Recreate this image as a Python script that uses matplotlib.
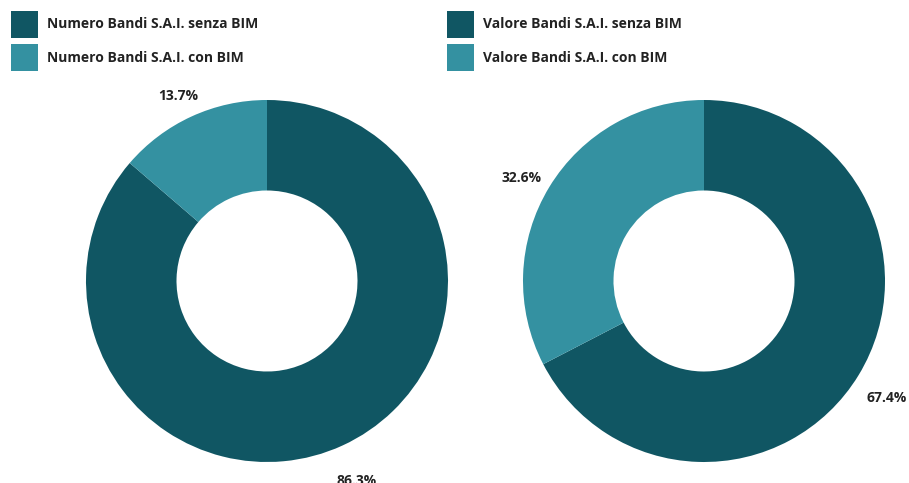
import numpy as np
import matplotlib.pyplot as plt
from matplotlib.patches import Rectangle

plt.rcParams['font.family'] = ['Open Sans', 'DejaVu Sans']

# Bandi S.A.I. con/senza BIM: numero e valore
categorie_numero = ['Numero Bandi S.A.I. senza BIM', 'Numero Bandi S.A.I. con BIM']
quote_numero = [86.3, 13.7]
categorie_valore = ['Valore Bandi S.A.I. senza BIM', 'Valore Bandi S.A.I. con BIM']
quote_valore = [67.4, 32.6]

colori = ['#105663', '#3491A1']

W, H = 909, 483
fig = plt.figure(figsize=(W / 100, H / 100), dpi=100)

R_PX = 181
LIM = 1.3
size = 2 * LIM * R_PX


def legenda(x, etichette):
    # quadrati colorati + testo, in pixel dall'angolo in alto a sinistra
    for i, (lab, col) in enumerate(zip(etichette, colori)):
        y = 11 + i * 33
        fig.add_artist(Rectangle((x / W, 1 - (y + 27) / H), 27 / W, 27 / H,
                                 transform=fig.transFigure, facecolor=col,
                                 edgecolor='none'))
        fig.text((x + 36) / W, 1 - (y + 13.5) / H, lab, ha='left', va='center',
                 fontsize=10, fontweight='bold', color='#222222')


def donut(cx, cy, valori, etichette, legend_x):
    ax = fig.add_axes([(cx - size / 2) / W, (H - cy - size / 2) / H, size / W, size / H])
    ax.pie(valori, colors=colori, startangle=90, counterclock=False,
           radius=1, wedgeprops=dict(width=0.5, linewidth=0))
    ax.set_xlim(-LIM, LIM)
    ax.set_ylim(-LIM, LIM)
    ax.set_aspect('equal')
    ax.axis('off')

    # etichette percentuali fuori dall'anello
    start = 90
    for v in valori:
        mid = np.deg2rad(start - v * 360 / 100 / 2)
        start -= v * 360 / 100
        ax.text(1.18 * np.cos(mid), 1.17 * np.sin(mid) - 0.04, f'{v:.1f}%',
                ha='center', va='center', fontsize=10, fontweight='bold',
                color='#222222')

    legenda(legend_x, etichette)


donut(267, 281, quote_numero, categorie_numero, 11)
donut(704, 281, quote_valore, categorie_valore, 447)

fig.savefig('out.png', dpi=100, facecolor='white')
